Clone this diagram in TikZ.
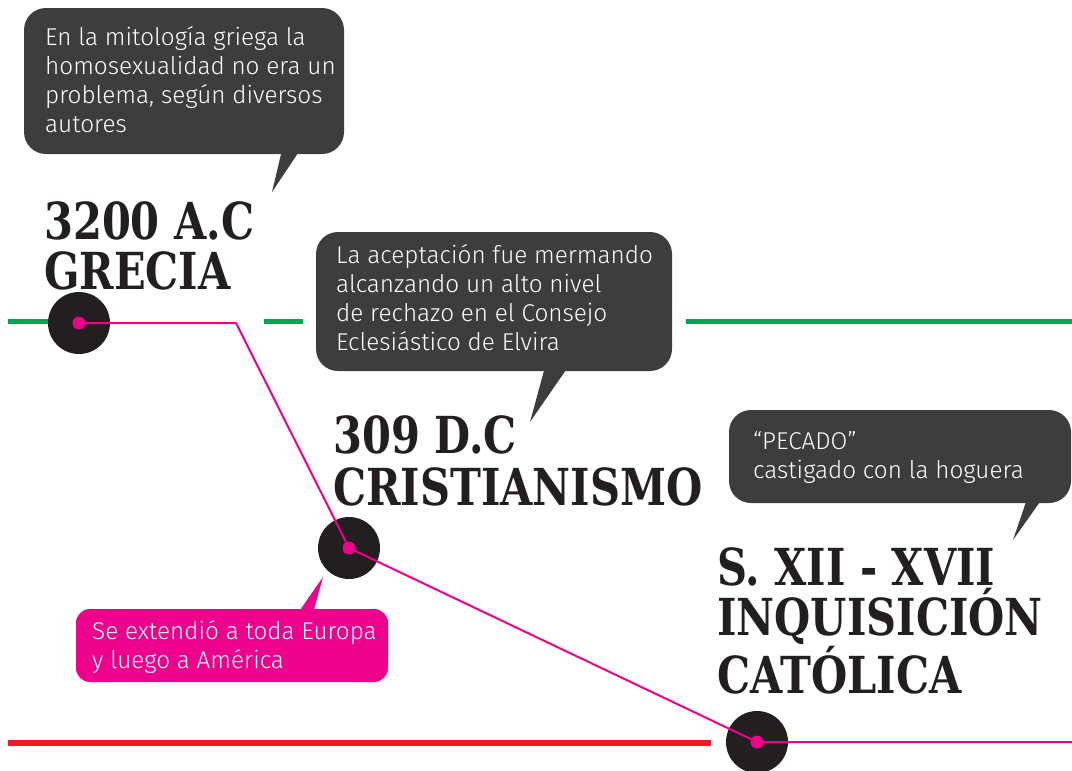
\documentclass[tikz,border=0pt]{standalone}
\usepackage{fontspec}
\newfontfamily\bodyfont{Fira Sans Light}
\newfontfamily\headfont{DejaVu Serif}[FakeStretch=0.815]
\definecolor{bubblec}{HTML}{3D3D3D}
\definecolor{pinkc}{HTML}{EC008C}
\definecolor{greenc}{HTML}{00A651}
\definecolor{redc}{HTML}{ED1C24}
\definecolor{dotc}{HTML}{231F20}
\tikzset{
 bubbletext/.style={anchor=base west, inner sep=0pt, align=left, text=white, font=\bodyfont\fontsize{24.3}{29}\selectfont},
 headline/.style={anchor=base west, inner sep=0pt, align=left, text=dotc, font=\headfont\bfseries\fontsize{51}{50}\selectfont},
 bigdot/.style={circle, fill=dotc, minimum size=62pt, inner sep=0pt},
 smalldot/.style={circle, fill=pinkc, minimum size=13pt, inner sep=0pt},
 pinkline/.style={draw=pinkc, line width=2pt},
 greenline/.style={draw=greenc, line width=5pt},
 redline/.style={draw=redc, line width=5.5pt},
 bubble/.style={fill=bubblec, rounded corners=22pt},
 pinkbubble/.style={fill=pinkc, rounded corners=14pt},
}
\begin{document}
\begin{tikzpicture}[x=1pt,y=-1pt]
\useasboundingbox (0,0) rectangle (1072,771);
\clip (0,0) rectangle (1072,771);
% timeline bars
\draw[greenline] (8,321.5) -- (60,321.5);
\draw[greenline] (264,321.5) -- (303,321.5);
\draw[greenline] (686,321.5) -- (1072,321.5);
\draw[redline] (8,743) -- (711,743);
% bubbles
\fill[bubble] (24,8) rectangle (344,154);
\fill[bubblec] (282,150) -- (272,192) -- (300,150) -- cycle;
\fill[bubble] (316,232) rectangle (672,371);
\fill[bubblec] (545,367) -- (530,422) -- (568,367) -- cycle;
\fill[bubble] (729,410) rectangle (1071,503);
\fill[bubblec] (1027,499) -- (1013,540) -- (1042,499) -- cycle;
\fill[pinkbubble] (76,609) rectangle (388,682);
\fill[pinkc] (298,613) -- (323,577) -- (313,613) -- cycle;
% bubble texts (anchored at the baseline of the last line)
\node[bubbletext] (t1) at (45,132) {En la mitología griega la\\homosexualidad no era un\\problema, según diversos\\autores};
\node[bubbletext] (t2) at (336,350) {La aceptación fue mermando\\alcanzando un alto nivel\\de rechazo en el Consejo\\Eclesiástico de Elvira};
\node[bubbletext] (t3) at (753,478) {“PECADO”\\castigado con la hoguera};
\node[bubbletext] (t4) at (92,668) {Se extendió a toda Europa\\y luego a América};
% headlines
\node[headline] (h1) at (44,289) {3200 A.C\\GRECIA};
\node[headline, font=\headfont\bfseries\fontsize{51}{52}\selectfont] (h2) at (333,505) {309 D.C\\CRISTIANISMO};
\node[headline] (h3) at (717,693) {S. XII - XVII\\INQUISICIÓN\\CATÓLICA};
% circles
\node[bigdot] (c1) at (79,323) {};
\node[bigdot] (c2) at (349,548) {};
\node[bigdot] (c3) at (757,742) {};
\coordinate (bend) at (236,323);
\coordinate (tail) at (1072,742);
\draw[pinkline] (c1.center) -- (bend) -- (c2.center) -- (c3.center) -- (tail);
\node[smalldot] (d1) at (c1.center) {};
\node[smalldot] (d2) at (c2.center) {};
\node[smalldot] (d3) at (c3.center) {};
\end{tikzpicture}
\end{document}
